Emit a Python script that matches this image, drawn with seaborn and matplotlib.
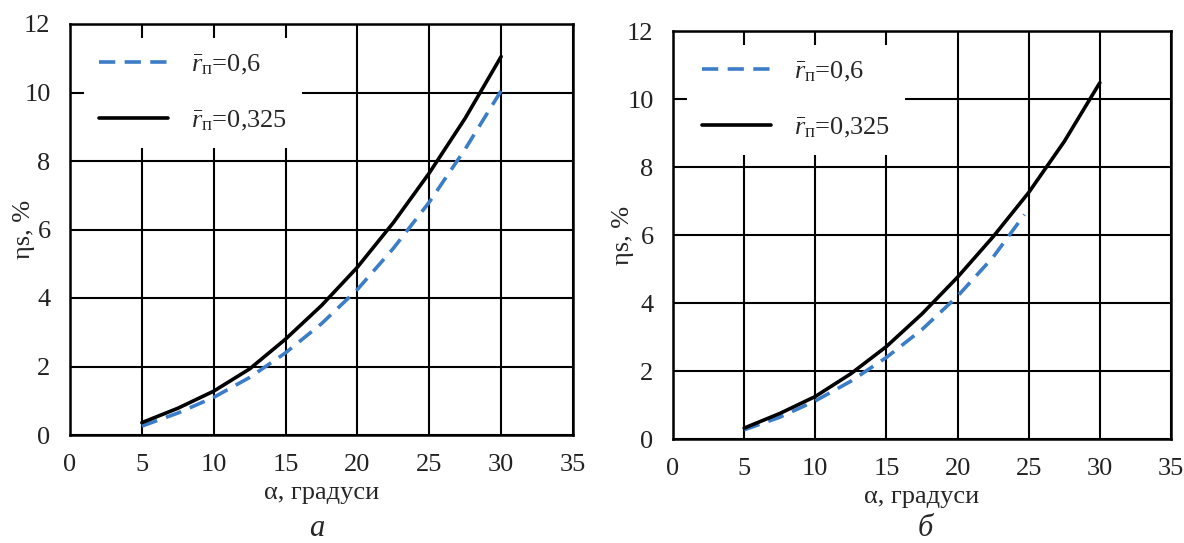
import numpy as np
import pandas as pd
import matplotlib
matplotlib.use("Agg")
import matplotlib.pyplot as plt
import seaborn as sns

# values (alpha in degrees, eta_s in %)
lab_06 = r"$\bar{r}_{\mathrm{п}}$=0,6"
lab_0325 = r"$\bar{r}_{\mathrm{п}}$=0,325"

alpha = [5, 7.5, 10, 12.5, 15, 17.5, 20, 22.5, 25, 27.5, 30]

a_eta_06 = [0.26, 0.64, 1.1, 1.68, 2.4, 3.25, 4.25, 5.45, 6.8, 8.35, 10.05]
a_eta_0325 = [0.36, 0.78, 1.28, 1.93, 2.8, 3.78, 4.9, 6.2, 7.65, 9.25, 11.05]

b_alpha_06 = [5, 7.5, 10, 12.5, 15, 17.5, 20, 22.5, 24.7]
b_eta_06 = [0.27, 0.64, 1.12, 1.7, 2.4, 3.22, 4.2, 5.35, 6.6]
b_eta_0325 = [0.32, 0.75, 1.25, 1.92, 2.72, 3.68, 4.76, 5.95, 7.25, 8.75, 10.48]

x_ticks = [0, 5, 10, 15, 20, 25, 30, 35]
y_ticks = [0, 2, 4, 6, 8, 10, 12]
x_label = "α, градуси"
y_label = "ηs, %"
captions = ["а", "б"]


def make_df(x06, y06, x0325, y0325):
    d1 = pd.DataFrame({"alpha": x06, "eta": y06, "series": lab_06})
    d2 = pd.DataFrame({"alpha": x0325, "eta": y0325, "series": lab_0325})
    return pd.concat([d1, d2], ignore_index=True)


df_a = make_df(alpha, a_eta_06, alpha, a_eta_0325)
df_b = make_df(b_alpha_06, b_eta_06, alpha, b_eta_0325)

sns.set_style("white")
plt.rcParams["font.family"] = ["Liberation Serif", "DejaVu Serif"]
plt.rcParams["mathtext.fontset"] = "custom"
plt.rcParams["mathtext.rm"] = "Liberation Serif"
plt.rcParams["mathtext.it"] = "Liberation Serif:italic"

fig = plt.figure(figsize=(11.84, 5.43), dpi=100)
ax_a = fig.add_axes([70 / 1184, 1 - 435 / 543, 503 / 1184, 411 / 543])
ax_b = fig.add_axes([673 / 1184, 1 - 439 / 543, 498 / 1184, 408 / 543])

palette = {lab_06: "#3C7DC8", lab_0325: "black"}
dashes = {lab_06: (4.5, 2.6), lab_0325: ""}

for ax, df, ylx in [(ax_a, df_a, -0.07), (ax_b, df_b, -0.078)]:
    sns.lineplot(data=df, x="alpha", y="eta", hue="series", style="series",
                 hue_order=[lab_06, lab_0325], style_order=[lab_06, lab_0325],
                 palette=palette, dashes=dashes, linewidth=2.6,
                 legend=False, ax=ax)
    ax.set_xlim(0, 35)
    ax.set_ylim(0, 12)
    ax.set_xticks(x_ticks)
    ax.set_yticks(y_ticks)
    ax.grid(True, color="black", linewidth=1.5)
    ax.set_axisbelow(True)
    for sp in ax.spines.values():
        sp.set_visible(True)
        sp.set_color("black")
        sp.set_linewidth(1.8)
    ax.tick_params(length=0, pad=14, labelsize=19, colors="#222222")
    ax.set_xlabel(x_label, fontsize=19, labelpad=4)
    ax.set_ylabel(y_label, fontsize=19)
    ax.yaxis.set_label_coords(ylx, 0.5)

    leg = ax.legend(ax.lines[:2], [lab_06, lab_0325], loc="upper left",
                    bbox_to_anchor=(0.028, 0.966), borderaxespad=0,
                    frameon=True, fancybox=False, framealpha=1,
                    facecolor="white", edgecolor="none", fontsize=19,
                    handlelength=2.6, handletextpad=0.87, labelspacing=1.2,
                    borderpad=0.57)

fig.text(317 / 1184, 1 - 528 / 543, captions[0], fontsize=22, style="italic",
         ha="center", va="center")
fig.text(925 / 1184, 1 - 528 / 543, captions[1], fontsize=22, style="italic",
         ha="center", va="center")

fig.savefig("out.png", dpi=100, facecolor="white")
